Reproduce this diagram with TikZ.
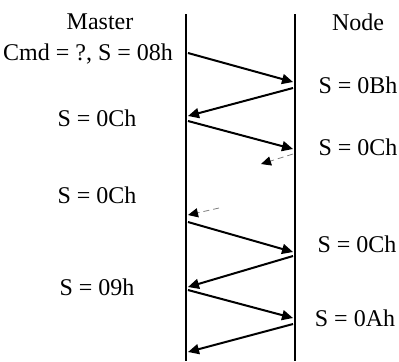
\documentclass[tikz,border=0pt]{standalone}
\usepackage{fontspec}
\setmainfont{Liberation Serif}
\usetikzlibrary{arrows.meta}

\tikzset{
  lifeline/.style={line width=1pt},
  msg/.style={line width=1pt, -{Triangle[length=5.5pt, width=5pt]}},
  lost/.style={gray, line width=0.4pt, densely dashed, -{Triangle[length=5pt, width=4.6pt, color=black]}},
  lbl/.style={inner sep=0pt, font=\fontsize{12}{14}\selectfont}
}

\begin{document}
\begin{tikzpicture}[x=0.5pt, y=-0.5pt]
  \useasboundingbox (0,0) rectangle (399,361);
  % --- Lebenslinien ---
  \coordinate (mtop) at (186,14);
  \coordinate (mbot) at (186,361);
  \coordinate (ntop) at (295,14);
  \coordinate (nbot) at (295,361);
  \draw[lifeline] (mtop) -- (mbot);
  \draw[lifeline] (ntop) -- (nbot);
  % --- Beschriftungen Master ---
  \node[lbl] (master) at (100,22) {Master};
  \node[lbl] (mcmd)   at (88,54)  {Cmd = ?, S = 08h};
  \node[lbl] (ms1)    at (97,118) {S = 0Ch};
  \node[lbl] (ms2)    at (97,195) {S = 0Ch};
  \node[lbl] (ms3)    at (97,287) {S = 09h};
  % --- Beschriftungen Node ---
  \node[lbl] (node)   at (358,22)  {Node};
  \node[lbl] (ns1)    at (358,85)  {S = 0Bh};
  \node[lbl] (ns2)    at (358,147) {S = 0Ch};
  \node[lbl] (ns3)    at (357,244) {S = 0Ch};
  \node[lbl] (ns4)    at (355,318) {S = 0Ah};
  % --- Endpunkte ---
  \coordinate (a1) at (188,53);  \coordinate (b1) at (293,82);
  \coordinate (a2) at (293,88);  \coordinate (b2) at (188,116);
  \coordinate (a3) at (188,121); \coordinate (b3) at (293,149);
  \coordinate (a4) at (293,154); \coordinate (b4) at (261,164);
  \coordinate (a5) at (219,208); \coordinate (b5) at (188,215);
  \coordinate (a6) at (188,222); \coordinate (b6) at (293,252);
  \coordinate (a7) at (293,256); \coordinate (b7) at (188,287);
  \coordinate (a8) at (188,290); \coordinate (b8) at (293,318);
  \coordinate (a9) at (293,324); \coordinate (b9) at (188,352);
  % --- Nachrichten ---
  \draw[msg]  (a1) -- (b1);
  \draw[msg]  (a2) -- (b2);
  \draw[msg]  (a3) -- (b3);
  \draw[lost] (a4) -- (b4);
  \draw[lost] (a5) -- (b5);
  \draw[msg]  (a6) -- (b6);
  \draw[msg]  (a7) -- (b7);
  \draw[msg]  (a8) -- (b8);
  \draw[msg]  (a9) -- (b9);
\end{tikzpicture}
\end{document}
